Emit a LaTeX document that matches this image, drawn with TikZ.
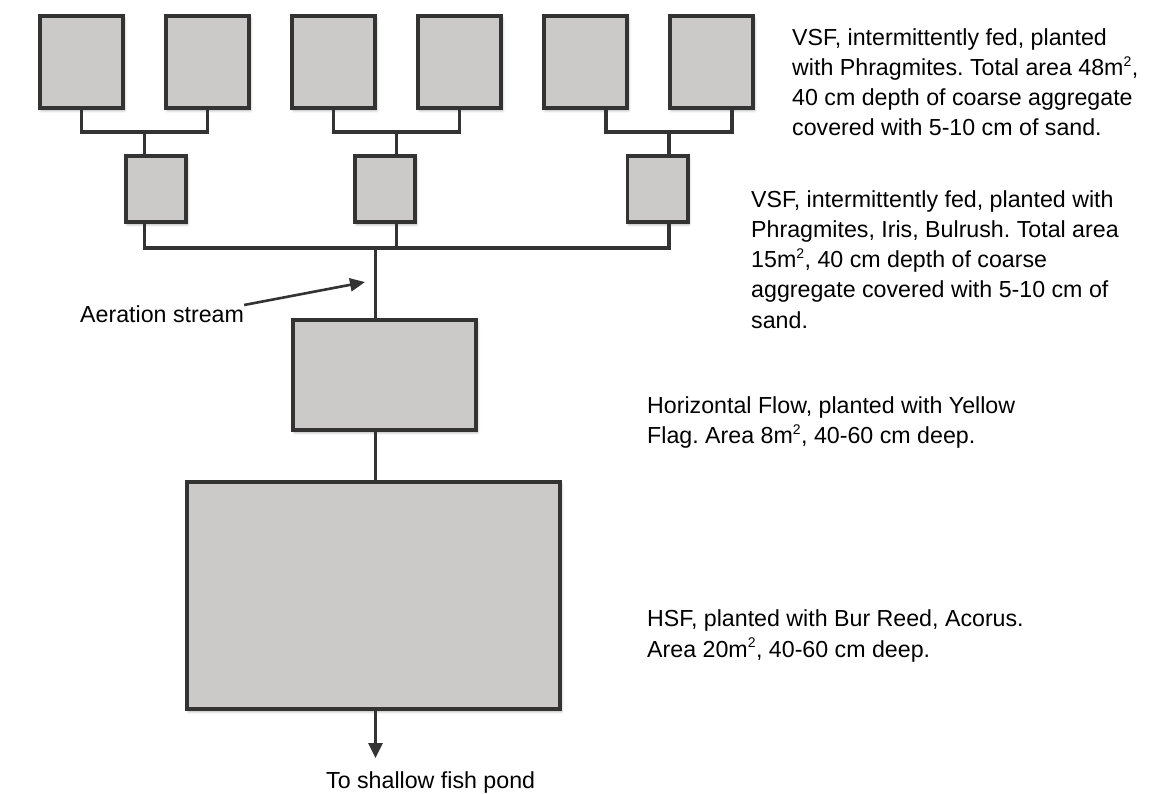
\documentclass[tikz,border=0pt]{standalone}
\usepackage{fontspec}
\setmainfont{Liberation Sans}
\usetikzlibrary{arrows.meta,calc,shadows.blur}
\definecolor{edge}{HTML}{333333}
\definecolor{boxfill}{HTML}{CBCAC8}
\frenchspacing
\newcommand{\sqm}{\textsuperscript{\fontsize{14}{14}\selectfont 2}}
\begin{document}
\begin{tikzpicture}[x=1pt,y=-1pt,
  bed/.style={draw=edge,fill=boxfill,line width=3.6pt,inner sep=0pt,outer sep=0pt,
    blur shadow={shadow xshift=1.5pt,shadow yshift=-2.5pt,shadow blur radius=2.5pt,shadow opacity=30}},
  pipe/.style={draw=edge,line width=3.2pt},
  note/.style={anchor=base west,inner sep=0pt,align=left,font=\fontsize{23.2}{30.3}\selectfont},
  flow/.style={draw=edge,line width=3.2pt,-{Triangle[width=14pt,length=15pt]}}]
\useasboundingbox (0,0) rectangle (1170,793);
% top stage
\foreach \n/\cx in {1/81.5,2/207.5,3/333.5,4/459.5,5/585.5,6/711.5}
  \node[bed,minimum width=83.4pt,minimum height=92.4pt] (t\n) at (\cx,62) {};
% second stage
\node[bed,minimum width=60.4pt,minimum height=66.4pt] (s1) at (156,189) {};
\node[bed,minimum width=60.4pt,minimum height=66.4pt] (s2) at (385,189) {};
\node[bed,minimum width=60.4pt,minimum height=66.4pt] (s3) at (657.5,189) {};
% third and fourth stages
\node[bed,minimum width=183.4pt,minimum height=110.4pt] (m) at (384.5,375) {};
\node[bed,minimum width=373.4pt,minimum height=227.4pt] (b) at (373.5,595.5) {};
% junction coordinates
\coordinate (j1) at (144.5,132);
\coordinate (j2) at (396.5,132);
\coordinate (j3) at (669,132);
\coordinate (k1) at (144.5,248);
\coordinate (k2) at (396.5,248);
\coordinate (k3) at (669,248);
\coordinate (k0) at (375.5,248);
\coordinate (t5o) at ($(t5.south)+(20.5,0)$);
\coordinate (t6o) at ($(t6.south)+(20.5,0)$);
% connectors top -> second
\draw[pipe] (t1.south) |- (j1) -| (t2.south);
\draw[pipe] (j1) -- (j1 |- s1.north);
\draw[pipe] (t3.south) |- (j2) -| (t4.south);
\draw[pipe] (j2) -- (j2 |- s2.north);
\draw[pipe] (t5o) |- (j3) -| (t6o);
\draw[pipe] (j3) -- (j3 |- s3.north);
% second -> bus
\draw[pipe] (k1 |- s1.south) -- (k1) -- (k3) -- (k3 |- s3.south);
\draw[pipe] (k2 |- s2.south) -- (k2);
\draw[pipe] (k0) -- (k0 |- m.north);
\draw[pipe] (k0 |- m.south) -- (k0 |- b.north);
\coordinate (pond) at (375.5,758);
\draw[flow] (k0 |- b.south) -- (pond);
% labels
\node[note] (aer) at (80,322) {Aeration stream};
\coordinate (aertip) at (365,282);
\draw[edge,line width=2.6pt,-{Triangle[width=13pt,length=15pt]}] (aer.north east) -- (aertip);
\node[note] (fish) at (326,788) {To shallow fish pond};
% (base anchor of a multi-line node = baseline of its last line)
\node[note] (n1) at (792,135.9) {VSF, intermittently fed, planted\\with Phragmites. Total area 48m\sqm,\\40 cm depth of coarse aggregate\\covered with 5-10 cm of sand.};
\node[note] (n2) at (751,328.2) {VSF, intermittently fed, planted with\\Phragmites, Iris, Bulrush. Total area\\15m\sqm, 40 cm depth of coarse\\aggregate covered with 5-10 cm of\\sand.};
\node[note] (n3) at (647,443.3) {Horizontal Flow, planted with Yellow\\Flag. Area 8m\sqm, 40-60 cm deep.};
\node[note] (n4) at (647,657) {HSF, planted with Bur Reed, Acorus.\\Area 20m\sqm, 40-60 cm deep.};
\end{tikzpicture}
\end{document}
